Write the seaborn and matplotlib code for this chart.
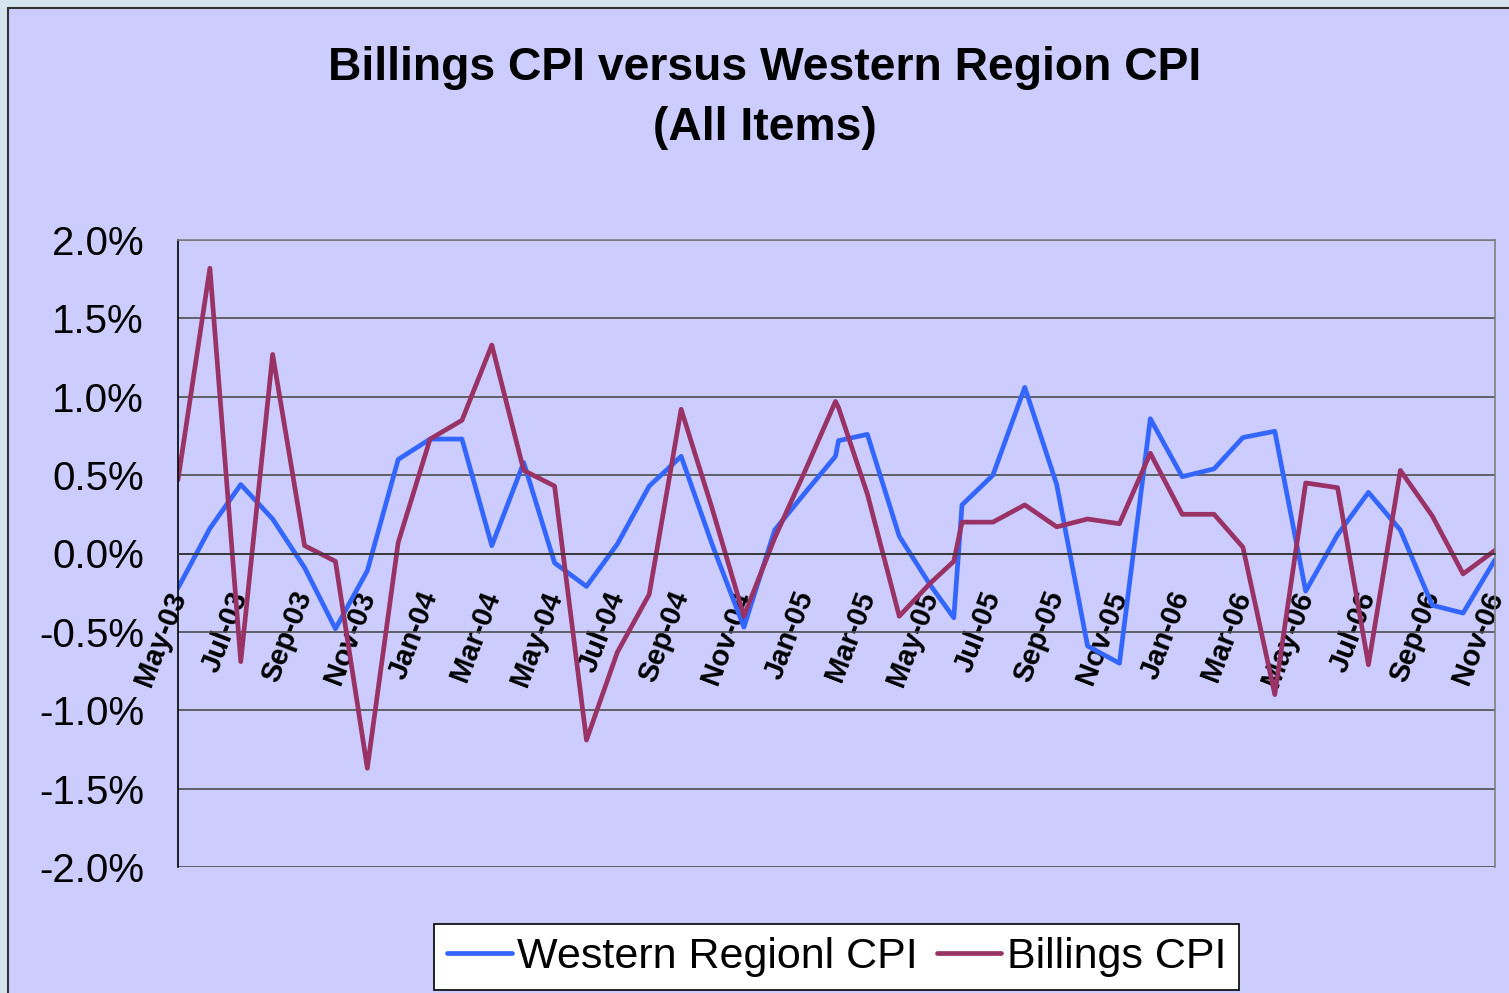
import matplotlib
matplotlib.use("Agg")
import matplotlib.pyplot as plt
import matplotlib.dates as mdates
from matplotlib.ticker import MultipleLocator, FuncFormatter
from matplotlib.patches import Rectangle
import pandas as pd
import seaborn as sns

# monthly observations (two extra readings in early 2005)
dates = [
    "2003-05-01", "2003-06-01", "2003-07-01", "2003-08-01", "2003-09-01", "2003-10-01",
    "2003-11-01", "2003-12-01", "2004-01-01", "2004-02-01", "2004-03-01", "2004-04-01",
    "2004-05-01", "2004-06-01", "2004-07-01", "2004-08-01", "2004-09-01", "2004-10-01",
    "2004-11-01", "2004-12-01", "2005-01-01", "2005-01-29", "2005-02-01", "2005-03-01",
    "2005-04-01", "2005-05-01", "2005-05-24", "2005-06-01", "2005-07-01", "2005-08-01",
    "2005-09-01", "2005-10-01", "2005-11-01", "2005-12-01", "2006-01-01", "2006-02-01",
    "2006-03-01", "2006-04-01", "2006-05-01", "2006-06-01", "2006-07-01", "2006-08-01",
    "2006-09-01", "2006-10-01", "2006-11-01",
]

# percent change, %
western = [
    -0.22, 0.16, 0.44, 0.22, -0.09, -0.48,
    -0.11, 0.60, 0.73, 0.73, 0.05, 0.58,
    -0.06, -0.21, 0.06, 0.43, 0.62, 0.06,
    -0.47, 0.15, 0.40, 0.62, 0.72, 0.76,
    0.11, -0.20, -0.41, 0.31, 0.50, 1.06,
    0.44, -0.59, -0.70, 0.86, 0.49, 0.54,
    0.74, 0.78, -0.24, 0.12, 0.39, 0.15,
    -0.33, -0.38, -0.04,
]
billings = [
    0.47, 1.82, -0.69, 1.27, 0.05, -0.05,
    -1.37, 0.07, 0.73, 0.85, 1.33, 0.53,
    0.43, -1.19, -0.63, -0.26, 0.92, 0.29,
    -0.40, 0.10, 0.55, 0.97, 0.93, 0.38,
    -0.40, -0.19, -0.05, 0.20, 0.20, 0.31,
    0.17, 0.22, 0.19, 0.64, 0.25, 0.25,
    0.04, -0.90, 0.45, 0.42, -0.71, 0.53,
    0.24, -0.13, 0.02,
]

series_names = ["Western Regionl CPI", "Billings CPI"]
series_colors = ["#3366FF", "#993366"]

sns.set_style("white")
plt.rcParams["font.family"] = ["Liberation Sans", "DejaVu Sans"]
plt.rcParams["text.color"] = "black"

W, H = 1509, 993
fig = plt.figure(figsize=(W / 100, H / 100), dpi=100, facecolor="#D5E4EE")
# chart area with dark edge at the top and left
bg = Rectangle((8 / W, -0.01), 1.0, 1 - 8 / H + 0.01, transform=fig.transFigure,
               facecolor="#CCCCFF", edgecolor="#333333", linewidth=1.5, zorder=-10)
fig.patches.append(bg)

ax = fig.add_axes([178 / W, 1 - 867 / H, (1495 - 178) / W, (867 - 240) / H])
ax.set_zorder(5)
ax.set_facecolor("#CCCCFF")

df = pd.DataFrame({"date": pd.to_datetime(dates),
                   series_names[0]: western,
                   series_names[1]: billings})
long_df = df.melt(id_vars="date", var_name="series", value_name="change")

sns.lineplot(data=long_df, x="date", y="change", hue="series", hue_order=series_names,
             palette=dict(zip(series_names, series_colors)), linewidth=3.4, ax=ax)
for ln in ax.lines:
    ln.set_linewidth(3.4)

ax.set_xlim(pd.Timestamp("2003-05-01"), pd.Timestamp("2006-11-01"))
ax.set_ylim(-2, 2)
ax.yaxis.set_major_locator(MultipleLocator(0.5))
ax.yaxis.set_major_formatter(FuncFormatter(lambda v, p: f"{v:.1f}%"))
ax.xaxis.set_major_locator(mdates.MonthLocator(bymonth=(1, 3, 5, 7, 9, 11)))
ax.xaxis.set_major_formatter(mdates.DateFormatter("%b-%y"))
ax.set_xlabel("")
ax.set_ylabel("")

ax.set_axisbelow(True)
ax.yaxis.grid(True, color="#4d4d4d", linewidth=1.2)
ax.xaxis.grid(False)

ax.spines["bottom"].set_position(("data", 0))
ax.spines["bottom"].set_color("#333333")
ax.spines["left"].set_color("black")
ax.spines["top"].set_color("#808080")
ax.spines["right"].set_color("#808080")
for s in ax.spines.values():
    s.set_linewidth(1.2)

ax.tick_params(axis="y", direction="out", length=11, width=1, pad=13.5, labelsize=29,
               colors="black")
ax.tick_params(axis="x", direction="out", length=6, width=1, pad=22, labelsize=21,
               colors="black")
for lab in ax.get_xticklabels():
    lab.set_rotation(69)
    lab.set_ha("right")
    lab.set_va("center")
    lab.set_rotation_mode("anchor")
    lab.set_fontweight("bold")

leg = ax.legend(loc="upper center", bbox_to_anchor=(0.5, -0.091), ncol=2, fontsize=31,
                frameon=True, fancybox=False, framealpha=1, facecolor="white",
                edgecolor="black", handlelength=1.5, handletextpad=0.12,
                columnspacing=0.45, borderpad=0.3, borderaxespad=0)
leg.get_frame().set_linewidth(1.2)
for h in leg.get_lines():
    h.set_linewidth(3.4)

fig.text(765 / W, 1 - 68 / H, "Billings CPI versus Western Region CPI",
         ha="center", va="center", fontsize=33.3, fontweight="bold", color="black")
fig.text(765 / W, 1 - 128 / H, "(All Items)",
         ha="center", va="center", fontsize=33.3, fontweight="bold", color="black")

fig.savefig("out.png", dpi=100, facecolor=fig.get_facecolor())
